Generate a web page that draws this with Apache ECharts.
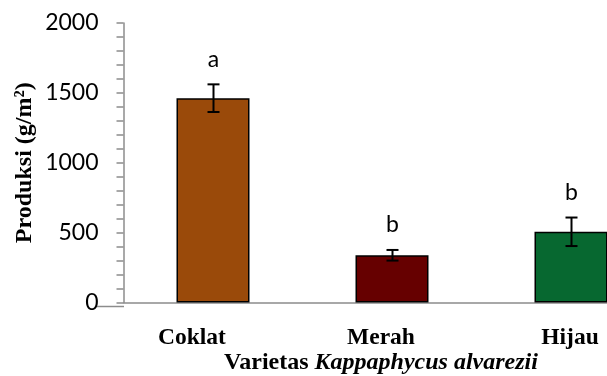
<!DOCTYPE html>
<html>
<head>
<meta charset="utf-8">
<script src="https://cdn.jsdelivr.net/npm/echarts@6/dist/echarts.min.js"></script>
<style>
  html, body { margin: 0; padding: 0; background: #fff; }
  #chart { width: 607px; height: 376px; }
</style>
</head>
<body>
<div id="chart"></div>
<script>
// Production of Kappaphycus alvarezii varieties (mean ± error)
const categories = ['Coklat', 'Merah', 'Hijau'];
const means = [1462, 338, 506];
const errors = [99, 38, 102];
const letters = ['a', 'b', 'b'];
const yTicks = [0, 500, 1000, 1500, 2000];

const barColors = ['#9a4a0a', '#660000', '#076830'];
const tickFont = 'Lato, "Open Sans", sans-serif';
const serifFont = '"Liberation Serif", "Times New Roman", serif';

const chart = echarts.init(document.getElementById('chart'), null, { renderer: 'canvas' });

const option = {
  animation: false,
  backgroundColor: '#fff',
  grid: [
    { left: 123.5, top: 23, right: -53.5, bottom: 73.5, outerBoundsMode: 'none', containLabel: false },
    { left: 97.5, top: 23, right: -57.5, bottom: 73.5, outerBoundsMode: 'none', containLabel: false }
  ],
  xAxis: [
    {
      type: 'category',
      gridIndex: 0,
      data: categories,
      offset: 4,
      axisLine: { show: true, lineStyle: { color: '#8c8c8c', width: 1.5 } },
      axisTick: { show: false },
      axisLabel: { show: false }
    },
    {
      type: 'category',
      gridIndex: 1,
      data: categories,
      axisLine: { show: false },
      axisTick: { show: false },
      axisLabel: {
        margin: 23,
        fontFamily: serifFont,
        fontWeight: 'bold',
        fontSize: 23.5,
        color: '#000'
      },
      name: '{b|Varietas }{i|Kappaphycus alvarezii}',
      nameLocation: 'middle',
      nameMoveOverlap: false,
      nameGap: 60,
      nameTextStyle: {
        verticalAlign: 'middle',
        lineHeight: 26,
        rich: {
          b: { fontFamily: serifFont, fontWeight: 'bold', fontSize: 24, lineHeight: 26, color: '#000' },
          i: { fontFamily: serifFont, fontWeight: 'bold', fontStyle: 'italic', fontSize: 24, lineHeight: 26, color: '#000' }
        }
      }
    }
  ],
  yAxis: [
    {
      type: 'value',
      gridIndex: 0,
      min: yTicks[0],
      max: yTicks[yTicks.length - 1],
      interval: 500,
      splitLine: { show: false },
      axisLine: { show: true, lineStyle: { color: '#8c8c8c', width: 1.5 } },
      axisTick: { show: true, length: 7, lineStyle: { color: '#8c8c8c', width: 1.5 } },
      minorTick: { show: true, splitNumber: 5, length: 7, lineStyle: { color: '#8c8c8c', width: 1.5 } },
      axisLabel: {
        margin: 25,
        fontFamily: tickFont,
        fontSize: 23,
        color: '#000',
        formatter: v => String(v)
      },
      name: 'Produksi (g/m²)',
      nameLocation: 'middle',
      nameMoveOverlap: false,
      nameGap: 99,
      nameTextStyle: {
        verticalAlign: 'middle',
        fontFamily: serifFont,
        fontWeight: 'bold',
        fontSize: 24,
        color: '#000'
      }
    },
    {
      type: 'value',
      gridIndex: 1,
      min: yTicks[0],
      max: yTicks[yTicks.length - 1],
      show: false
    }
  ],
  graphic: [
    {
      type: 'line',
      shape: { x1: 95, y1: 306.5, x2: 124, y2: 306.5 },
      style: { stroke: '#8c8c8c', lineWidth: 1.5 },
      silent: true
    }
  ],
  series: [
    {
      type: 'bar',
      xAxisIndex: 0,
      yAxisIndex: 0,
      barWidth: 73,
      data: means.map((v, i) => ({
        value: v,
        itemStyle: { color: barColors[i], borderColor: '#000', borderWidth: 1.5 }
      }))
    },
    {
      type: 'custom',
      xAxisIndex: 0,
      yAxisIndex: 0,
      z: 10,
      data: means.map((v, i) => [i, v, errors[i]]),
      renderItem: function (params, api) {
        const i = api.value(0);
        const m = api.value(1);
        const e = api.value(2);
        const letter = letters[params.dataIndex];
        const top = api.coord([i, m + e]);
        const bot = api.coord([i, m - e]);
        const x = Math.round(top[0]) + 0.5;
        const cap = 6;
        const ls = { stroke: '#000', lineWidth: 2 };
        return {
          type: 'group',
          children: [
            { type: 'line', shape: { x1: x, y1: top[1], x2: x, y2: bot[1] }, style: ls },
            { type: 'line', shape: { x1: x - cap, y1: top[1], x2: x + cap, y2: top[1] }, style: ls },
            { type: 'line', shape: { x1: x - cap, y1: bot[1], x2: x + cap, y2: bot[1] }, style: ls },
            {
              type: 'text',
              x: x,
              y: top[1] - 25,
              style: {
                text: letter,
                fill: '#000',
                font: '23px ' + tickFont,
                textAlign: 'center',
                textVerticalAlign: 'middle'
              }
            }
          ]
        };
      }
    }
  ]
};

chart.setOption(option);
</script>
</body>
</html>
